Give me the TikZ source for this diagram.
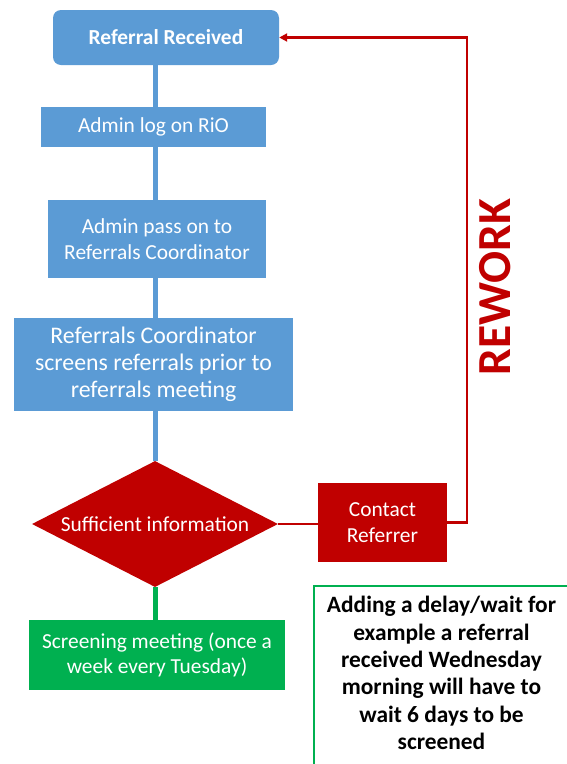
\documentclass[tikz,border=0pt]{standalone}
\usepackage{fontspec}
\setmainfont{Carlito}
\usetikzlibrary{shapes.geometric,arrows.meta,backgrounds}
\definecolor{boxblue}{RGB}{91,155,213}
\definecolor{darkred}{RGB}{192,0,0}
\definecolor{flowgreen}{RGB}{0,176,80}
\begin{document}
\begin{tikzpicture}[x=1pt,y=-1pt,
  txt/.style={font=\fontsize{21.4}{25.7}\selectfont},
  bluebox/.style={fill=boxblue, text=white, align=center, inner sep=0pt, txt},
  redbox/.style={fill=darkred, text=white, align=center, inner sep=0pt, txt},
  greenbox/.style={fill=flowgreen, text=white, align=center, inner sep=0pt, txt},
  blueline/.style={draw=boxblue, line width=5pt},
  redline/.style={draw=darkred, line width=2.5pt},
  greenline/.style={draw=flowgreen, line width=5pt},
  arrowtip/.style={-{Triangle[width=8pt,length=8pt]}}
]
\useasboundingbox (0,0) rectangle (566,764);

% process boxes
\node[bluebox, rounded corners=8pt, minimum width=226pt, minimum height=55pt,
      font=\bfseries\fontsize{21.4}{25}\selectfont] (rr) at (166,37.5) {Referral Received};
\node[bluebox, minimum width=225pt, minimum height=40pt] (log) at (153.5,127) {Admin log on RiO};
\node[bluebox, minimum width=218pt, minimum height=78pt] (pass) at (157,239)
  {Admin pass on to\\Referrals Coordinator};
\node[bluebox, minimum width=279pt, minimum height=93pt, font=\fontsize{23.8}{27}\selectfont]
  (scr) at (153.5,364.5)
  {Referrals Coordinator\\screens referrals prior to\\referrals meeting};

% decision
\node[diamond, fill=darkred, text=white, shape aspect=1.95, minimum width=246pt,
      minimum height=126pt, inner sep=0pt, txt] (dia) at (155,524) {Sufficient information};

\node[redbox, minimum width=129pt, minimum height=79pt] (cr) at (382.5,522.5) {Contact\\Referrer};
\node[greenbox, minimum width=256pt, minimum height=70pt] (meet) at (157,655)
  {Screening meeting (once a\\week every Tuesday)};

% note box, running off the page edge
\node[draw=flowgreen, line width=2pt, fill=white, minimum width=258pt, minimum height=184pt,
      anchor=north west, inner sep=0pt] (note) at (313,585) {};
\node[align=center, font=\bfseries\fontsize{23.4}{27.4}\selectfont] (notetext) at (441.5,673)
  {Adding a delay/wait for\\example a referral\\received Wednesday\\morning will have to\\wait 6 days to be\\screened};

\node[rotate=90, text=darkred, font=\bfseries\fontsize{47.4}{47.4}\selectfont] (rw) at (495,287) {REWORK};

% connectors
\begin{scope}[on background layer]
  \draw[blueline] (rr.south -| dia.north) -- (dia.north);
\end{scope}
\draw[greenline] (dia.south) -- (dia.south |- meet.north);
\draw[redline] (dia.east) -- (dia.east -| cr.west);
\draw[redline, arrowtip] (cr.east) -- ++(20,0) |- (rr.east);
\end{tikzpicture}
\end{document}
